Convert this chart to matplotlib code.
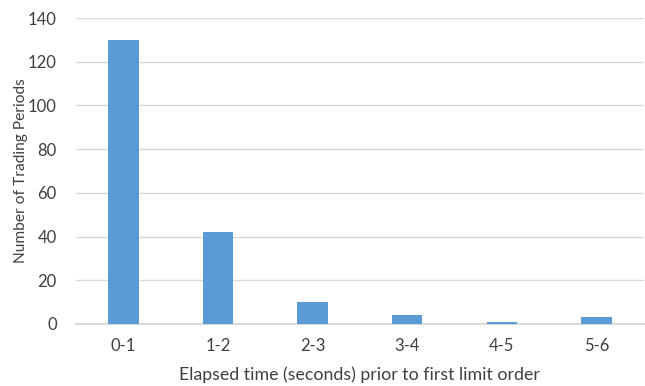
import matplotlib.pyplot as plt

# time bins and how many trading periods fell into each
bins = ["0-1", "1-2", "2-3", "3-4", "4-5", "5-6"]
counts = [130, 42, 10, 4, 1, 3]
y_ticks = [0, 20, 40, 60, 80, 100, 120, 140]

plt.rcParams['font.family'] = ['Lato', 'DejaVu Sans']

fig = plt.figure(figsize=(6.45, 3.86), dpi=100)
ax = fig.add_axes([0.118, 0.161, 0.88, 0.792])

x = range(len(bins))
ax.bar(x, counts, width=0.32, color="#5B9BD5", zorder=3)

ax.set_xlim(-0.5, len(bins) - 0.5)
ax.set_ylim(0, 140)
ax.set_yticks(y_ticks)
ax.set_xticks(list(x))
ax.set_xticklabels(bins)

ax.yaxis.grid(True, color="#D9D9D9", linewidth=1.0, zorder=0)
for side in ["top", "right", "left"]:
    ax.spines[side].set_visible(False)
ax.spines["bottom"].set_color("#D9D9D9")
ax.spines["bottom"].set_linewidth(1.5)
ax.tick_params(axis="both", length=0, labelsize=12, colors="#404040")
ax.tick_params(axis="x", pad=10)
ax.tick_params(axis="y", pad=14)

ax.set_xlabel("Elapsed time (seconds) prior to first limit order", fontsize=12.8, color="#404040", labelpad=9)
ax.set_ylabel("Number of Trading Periods", fontsize=11.2, color="#404040", labelpad=0)

fig.savefig("out.png", dpi=100)
